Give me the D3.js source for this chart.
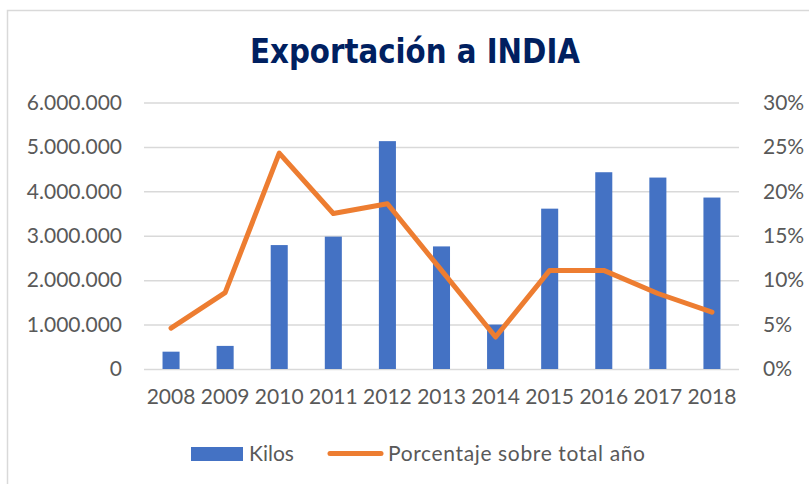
<!DOCTYPE html>
<html>
<head>
<meta charset="utf-8">
<script src="https://cdn.jsdelivr.net/npm/d3@7"></script>
<style>
  body { margin: 0; background: #fff; }
</style>
</head>
<body>
<div id="chart"></div>
<script>
const years = ["2008", "2009", "2010", "2011", "2012", "2013", "2014", "2015", "2016", "2017", "2018"]
const kilos = [390000, 520000, 2790000, 2980000, 5130000, 2760000, 1000000, 3610000, 4430000, 4310000, 3860000]
const porcentaje = [0.046, 0.086, 0.243, 0.175, 0.186, 0.111, 0.036, 0.111, 0.111, 0.085, 0.064]
const kiloTicks = [0, 1000000, 2000000, 3000000, 4000000, 5000000, 6000000]
const pctTicks = [0, 0.05, 0.10, 0.15, 0.20, 0.25, 0.30]

const width = 809
const height = 484
const plotLeft = 144, plotRight = 739, plotTop = 102.5, plotBottom = 369

const svg = d3.select("#chart")
  .append("svg")
    .attr("width", width)
    .attr("height", height)
    .attr("font-family", "Lato, 'Open Sans', sans-serif")

// chart area border (top + left only visible)
svg.append("path")
    .attr("d", "M7.5," + height + "V10.5H" + width)
    .attr("fill", "none")
    .attr("stroke", "#d9d9d9")
    .attr("stroke-width", 1.5)

const x = d3.scaleBand()
    .domain(years)
    .range([plotLeft, plotRight])
    .paddingInner(0.685)
    .paddingOuter(0.3425)

const yKilos = d3.scaleLinear().domain([0, 6000000]).range([plotBottom, plotTop])
const yPct = d3.scaleLinear().domain([0, 0.30]).range([plotBottom, plotTop])

const fmtKilos = d => d3.format(",")(d).replace(/,/g, ".")

// gridlines
svg.append("g")
    .attr("transform", "translate(" + plotLeft + ",0)")
    .call(d3.axisLeft(yKilos).tickValues(kiloTicks).tickSize(-(plotRight - plotLeft)).tickFormat(""))
    .call(g => g.select(".domain").remove())
    .call(g => g.selectAll("line").attr("stroke", "#d9d9d9").attr("stroke-width", 1.5))

// left axis labels
svg.append("g")
    .attr("transform", "translate(" + plotLeft + ",0)")
    .call(d3.axisLeft(yKilos).tickValues(kiloTicks).tickSize(0).tickPadding(22).tickFormat(fmtKilos))
    .call(g => g.select(".domain").remove())
    .call(g => g.selectAll("text").attr("font-size", 21).attr("font-family", "Lato").attr("fill", "#595959"))

// right axis labels
svg.append("g")
    .attr("transform", "translate(" + plotRight + ",0)")
    .call(d3.axisRight(yPct).tickValues(pctTicks).tickSize(0).tickPadding(24).tickFormat(d3.format(".0%")))
    .call(g => g.select(".domain").remove())
    .call(g => g.selectAll("text").attr("font-size", 21).attr("font-family", "Lato").attr("fill", "#595959"))

// x axis labels
svg.append("g")
    .attr("transform", "translate(0," + plotBottom + ")")
    .call(d3.axisBottom(x).tickSize(0).tickPadding(20))
    .call(g => g.select(".domain").remove())
    .call(g => g.selectAll("text").attr("font-size", 21).attr("font-family", "Lato").attr("fill", "#595959"))

// bars
svg.selectAll(".bar")
  .data(years)
  .enter()
  .append("rect")
    .attr("class", "bar")
    .attr("x", d => x(d))
    .attr("y", (d, i) => yKilos(kilos[i]))
    .attr("width", x.bandwidth())
    .attr("height", (d, i) => plotBottom - yKilos(kilos[i]))
    .attr("fill", "#4472C4")

// line
const line = d3.line()
    .x((d, i) => x(years[i]) + x.bandwidth() / 2)
    .y(d => yPct(d))

svg.append("path")
    .datum(porcentaje)
    .attr("d", line)
    .attr("fill", "none")
    .attr("stroke", "#ED7D31")
    .attr("stroke-width", 5)
    .attr("stroke-linejoin", "round")
    .attr("stroke-linecap", "round")

// title
svg.append("text")
    .text("Exportación a INDIA")
    .attr("x", 250)
    .attr("y", 63)
    .attr("font-family", "'DejaVu Sans Condensed', 'DejaVu Sans'")
    .attr("font-weight", "bold")
    .attr("font-size", 33)
    .attr("textLength", 330)
    .attr("lengthAdjust", "spacingAndGlyphs")
    .attr("fill", "#002060")

// legend
svg.append("rect")
    .attr("x", 191)
    .attr("y", 447)
    .attr("width", 52)
    .attr("height", 14)
    .attr("fill", "#4472C4")
svg.append("text")
    .text("Kilos")
    .attr("x", 249)
    .attr("y", 461)
    .attr("font-size", 21)
    .attr("fill", "#595959")

svg.append("line")
    .attr("x1", 330).attr("x2", 381)
    .attr("y1", 453.5).attr("y2", 453.5)
    .attr("stroke", "#ED7D31")
    .attr("stroke-width", 5)
    .attr("stroke-linecap", "round")
svg.append("text")
    .text("Porcentaje sobre total año")
    .attr("x", 388)
    .attr("y", 461)
    .attr("font-size", 21)
    .attr("textLength", 257)
    .attr("lengthAdjust", "spacing")
    .attr("fill", "#595959")
</script>
</body>
</html>
